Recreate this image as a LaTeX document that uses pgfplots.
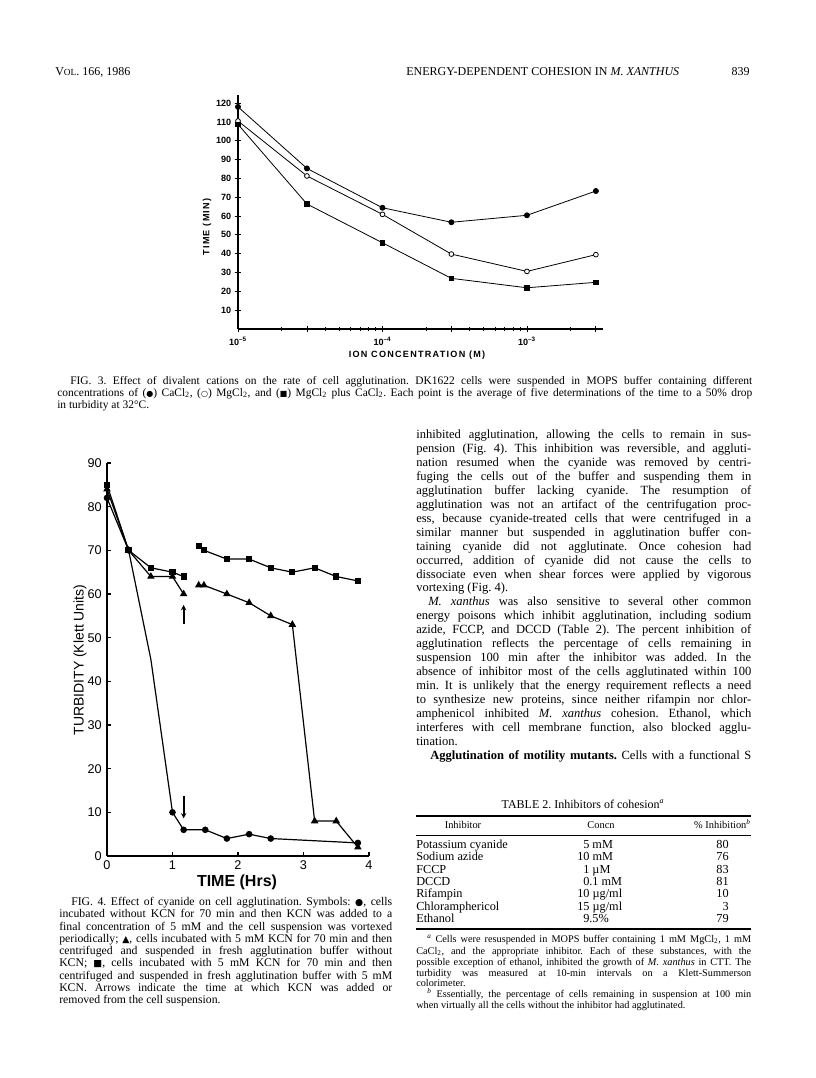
\documentclass[border=0pt]{standalone}
\usepackage{pgfplots}
\pgfplotsset{compat=1.18}
\usetikzlibrary{arrows.meta}
\usepackage{fontspec}
\setmainfont{Liberation Serif}
\setsansfont{Liberation Sans}
\newfontfamily\sym{DejaVu Sans}
\newfontfamily\spaced[LetterSpace=14]{Liberation Sans}
\frenchspacing
\newcommand{\J}[4]{\node[anchor=mid west,inner sep=0pt] at (#1,#2) {\makebox[#3][s]{#4}};}
\newcommand{\N}[3]{\node[anchor=mid west,inner sep=0pt] at (#1,#2) {#3};}
\newcommand{\sub}[1]{\textsubscript{#1}}
\begin{document}
\frenchspacing
\begin{tikzpicture}
\begin{scope}[x=0.75pt,y=-0.75pt]
\path[use as bounding box] (0,0) rectangle (816,1078);
% header
\begin{scope}[every node/.style={font=\fontsize{9}{10}\selectfont}]
\N{55}{72}{V{\fontsize{7}{8}\selectfont OL}. 166, 1986}
\N{406}{72}{ENERGY-DEPENDENT COHESION IN \textit{M. XANTHUS}}
\node[anchor=mid east,inner sep=0pt] at (750,72) {839};
\end{scope}
% fig 3 labels
\node[rotate=90,font=\fontsize{6.8}{7}\spaced\bfseries] at (207,227) {TIME (MIN)};
\node[font=\fontsize{6.8}{7}\spaced\bfseries] at (417,355) {ION CONCENTRATION (M)};
% fig 3 caption
\begin{scope}[every node/.style={font=\fontsize{8.6}{9}\selectfont}]
\J{70}{381}{511.5pt}{FIG. 3. Effect of divalent cations on the rate of cell agglutination. DK1622 cells were suspended in MOPS buffer containing different}
\J{57}{393}{521.25pt}{concentrations of ({\sym\fontsize{6}{6}\selectfont ●}) CaCl\sub{2}, ({\sym\fontsize{6}{6}\selectfont ○}) MgCl\sub{2}, and ({\sym\fontsize{6}{6}\selectfont ■}) MgCl\sub{2} plus CaCl\sub{2}. Each point is the average of five determinations of the time to a 50\% drop}
\N{57}{405}{in turbidity at 32°C.}
\end{scope}
% fig 4 labels
\node[rotate=90,font=\fontsize{10.5}{11}\sffamily] at (80,660) {TURBIDITY (Klett Units)};
\node[font=\fontsize{12}{13}\sffamily\bfseries] at (237,882) {TIME (Hrs)};
% fig 4 caption
\begin{scope}[every node/.style={font=\fontsize{8.8}{9}\selectfont}]
\J{71}{902}{240.75pt}{FIG. 4. Effect of cyanide on cell agglutination. Symbols: {\sym\fontsize{7}{7}\selectfont ●}, cells}
\J{59}{914}{249.75pt}{incubated without KCN for 70 min and then KCN was added to a}
\J{59}{927}{249.75pt}{final concentration of 5 mM and the cell suspension was vortexed}
\J{59}{939}{249.75pt}{periodically; {\sym\fontsize{7}{7}\selectfont ▲}, cells incubated with 5 mM KCN for 70 min and then}
\J{59}{951}{249.75pt}{centrifuged and suspended in fresh agglutination buffer without}
\J{59}{963}{249.75pt}{KCN; {\sym\fontsize{7}{7}\selectfont ■}, cells incubated with 5 mM KCN for 70 min and then}
\J{59}{976}{249.75pt}{centrifuged and suspended in fresh agglutination buffer with 5 mM}
\J{59}{988}{249.75pt}{KCN. Arrows indicate the time at which KCN was added or}
\N{59}{1000}{removed from the cell suspension.}
\end{scope}
% right column
\begin{scope}[every node/.style={font=\fontsize{9.4}{10}\selectfont}]
\J{416}{435}{251.25pt}{inhibited agglutination, allowing the cells to remain in sus-}
\J{416}{449}{251.25pt}{pension (Fig. 4). This inhibition was reversible, and aggluti-}
\J{416}{463}{251.25pt}{nation resumed when the cyanide was removed by centri-}
\J{416}{477}{251.25pt}{fuging the cells out of the buffer and suspending them in}
\J{416}{491}{251.25pt}{agglutination buffer lacking cyanide. The resumption of}
\J{416}{505}{251.25pt}{agglutination was not an artifact of the centrifugation proc-}
\J{416}{519}{251.25pt}{ess, because cyanide-treated cells that were centrifuged in a}
\J{416}{533}{251.25pt}{similar manner but suspended in agglutination buffer con-}
\J{416}{547}{251.25pt}{taining cyanide did not agglutinate. Once cohesion had}
\J{416}{561}{251.25pt}{occurred, addition of cyanide did not cause the cells to}
\J{416}{575}{251.25pt}{dissociate even when shear forces were applied by vigorous}
\N{416}{588}{vortexing (Fig. 4).}
\J{428}{602}{242.25pt}{\textit{M. xanthus} was also sensitive to several other common}
\J{416}{616}{251.25pt}{energy poisons which inhibit agglutination, including sodium}
\J{416}{630}{251.25pt}{azide, FCCP, and DCCD (Table 2). The percent inhibition of}
\J{416}{644}{251.25pt}{agglutination reflects the percentage of cells remaining in}
\J{416}{658}{251.25pt}{suspension 100 min after the inhibitor was added. In the}
\J{416}{672}{251.25pt}{absence of inhibitor most of the cells agglutinated within 100}
\J{416}{686}{251.25pt}{min. It is unlikely that the energy requirement reflects a need}
\J{416}{700}{251.25pt}{to synthesize new proteins, since neither rifampin nor chlor-}
\J{416}{714}{251.25pt}{amphenicol inhibited \textit{M. xanthus} cohesion. Ethanol, which}
\J{416}{728}{251.25pt}{interferes with cell membrane function, also blocked agglu-}
\N{416}{742}{tination.}
\J{430}{756}{240.75pt}{\textbf{Agglutination of motility mutants.} Cells with a functional S}
\end{scope}
% table
\node[font=\fontsize{9}{10}\selectfont] at (583,804) {TABLE 2. Inhibitors of cohesion\textsuperscript{\textit{a}}};
\draw[line width=0.9pt] (416,816) -- (751,816);
\draw[line width=0.5pt] (416,835) -- (751,835);
\draw[line width=0.9pt] (416,929) -- (751,929);
\begin{scope}[every node/.style={font=\fontsize{7.8}{8}\selectfont,inner sep=0pt}]
\node at (463,825) {Inhibitor};
\node at (601,825) {Concn};
\node[anchor=mid east] at (751,825) {\% Inhibition\textsuperscript{\textit{b}}};
\end{scope}
\begin{scope}[every node/.style={font=\fontsize{9.2}{10}\selectfont,inner sep=0pt}]
\N{416}{845}{Potassium cyanide}
\N{416}{857}{Sodium azide}
\N{416}{870}{FCCP}
\N{416}{882}{DCCD}
\N{416}{894}{Rifampin}
\N{416}{907}{Chloramphericol}
\N{416}{919}{Ethanol}
\N{583}{845}{5 mM}
\N{577}{857}{10 mM}
\N{583}{870}{1 µM}
\N{583}{882}{0.1 mM}
\N{577}{894}{10 µg/ml}
\N{577}{907}{15 µg/ml}
\N{583}{919}{9.5\%}
\node[anchor=mid east] at (729,845) {80};
\node[anchor=mid east] at (729,857) {76};
\node[anchor=mid east] at (729,870) {83};
\node[anchor=mid east] at (729,882) {81};
\node[anchor=mid east] at (729,894) {10};
\node[anchor=mid east] at (729,907) {3};
\node[anchor=mid east] at (729,919) {79};
\end{scope}
% footnotes
\begin{scope}[every node/.style={font=\fontsize{7.7}{8}\selectfont}]
\J{427}{939}{243pt}{\textsuperscript{\textit{a}} Cells were resuspended in MOPS buffer containing 1 mM MgCl\sub{2}, 1 mM}
\J{416}{951}{251.25pt}{CaCl\sub{2}, and the appropriate inhibitor. Each of these substances, with the}
\J{416}{962}{251.25pt}{possible exception of ethanol, inhibited the growth of \textit{M. xanthus} in CTT. The}
\J{416}{973}{251.25pt}{turbidity was measured at 10-min intervals on a Klett-Summerson}
\N{416}{983}{colorimeter.}
\J{427}{994}{243pt}{\textsuperscript{\textit{b}} Essentially, the percentage of cells remaining in suspension at 100 min}
\N{416}{1005}{when virtually all the cells without the inhibitor had agglutinated.}
\end{scope}
\end{scope}

% ---------- FIG. 3 ----------
\begin{axis}[
  at={(178.5pt,-246.75pt)}, anchor=south west,
  scale only axis, width=273.75pt, height=175.5pt,
  xmode=log, xmin=1e-5, xmax=3.36e-3, ymin=0, ymax=124.3,
  axis lines=left, axis line style={-, line width=0.8pt},
  xtick={1e-5,1e-4,1e-3},
  xticklabels={10\textsuperscript{--5},10\textsuperscript{--4},10\textsuperscript{--3}},
  extra x ticks={3e-5,3e-4,3e-3}, extra x tick labels={},
  minor xtick={2e-5,3e-5,4e-5,5e-5,6e-5,7e-5,8e-5,9e-5,2e-4,3e-4,4e-4,5e-4,6e-4,7e-4,8e-4,9e-4,2e-3,3e-3},
  ytick={10,20,...,120},
  tick align=center, major tick length=5pt, minor tick length=3.5pt,
  every tick/.style={black, line width=0.6pt},
  /pgf/number format/assume math mode=true,
  tick label style={font=\fontsize{6.8}{7}\sffamily\bfseries},
  yticklabel style={xshift=1pt},
  clip=false,
]
\addplot[black, line width=0.6pt, mark=*, mark size=1.9pt] coordinates {
(1e-5,118) (3e-5,85.3) (1e-4,64.4) (3e-4,56.7) (1e-3,60.4) (3e-3,73.3)};
\addplot[black, line width=0.6pt, mark=*, mark options={fill=white}, mark size=1.8pt] coordinates {
(1e-5,110.5) (3e-5,81.3) (1e-4,60.9) (3e-4,39.8) (1e-3,30.6) (3e-3,39.5)};
\addplot[black, line width=0.6pt, mark=square*, mark size=1.8pt] coordinates {
(1e-5,108.7) (3e-5,66.4) (1e-4,45.8) (3e-4,26.9) (1e-3,21.9) (3e-3,24.8)};
\end{axis}

% ---------- FIG. 4 ----------
\begin{axis}[
  at={(80.25pt,-642pt)}, anchor=south west,
  scale only axis, width=196.5pt, height=294.75pt,
  xmin=0, xmax=4, ymin=0, ymax=90,
  axis lines=left, axis line style={-, line width=0.9pt},
  xtick={0,1,2,3,4}, ytick={0,10,...,90},
  tick align=inside, major tick length=3pt,
  every tick/.style={black, line width=0.8pt},
  /pgf/number format/assume math mode=true,
  tick label style={font=\fontsize{9.5}{10}\sffamily},
  yticklabel style={xshift=-0.5pt},
  clip=false,
]
% circles: KCN added
\addplot[black, line width=0.9pt, mark=*, mark size=2pt, mark indices={1,2,4,5,6,7,8,9,10}] coordinates {
(0,82) (0.33,70) (0.67,45) (1.0,10) (1.17,6) (1.5,6) (1.83,4) (2.17,5) (2.5,4) (3.83,3)};
% triangles
\addplot[black, line width=0.9pt, mark=triangle*, mark size=2.4pt] coordinates {
(0,84) (0.33,70) (0.67,64) (1.0,64) (1.17,60)};
\addplot[black, line width=0.9pt, mark=triangle*, mark size=2.4pt] coordinates {
(1.4,62) (1.48,62) (1.83,60) (2.17,58) (2.5,55) (2.83,53) (3.17,8) (3.5,8) (3.83,2)};
% squares
\addplot[black, line width=0.9pt, mark=square*, mark size=1.9pt] coordinates {
(0,85) (0.33,70) (0.67,66) (1.0,65) (1.17,64)};
\addplot[black, line width=0.9pt, mark=square*, mark size=1.9pt] coordinates {
(1.4,71) (1.48,70) (1.83,68) (2.17,68) (2.5,66) (2.83,65) (3.17,66) (3.5,64) (3.83,63)};
% arrows
\draw[line width=1.3pt, -{Stealth[length=4pt,width=4pt]}] (axis cs:1.17,13.8) -- (axis cs:1.17,8.6);
\draw[line width=1.3pt, -{Stealth[length=4pt,width=4pt]}] (axis cs:1.17,53.2) -- (axis cs:1.17,57.5);
\end{axis}
\end{tikzpicture}
\end{document}
